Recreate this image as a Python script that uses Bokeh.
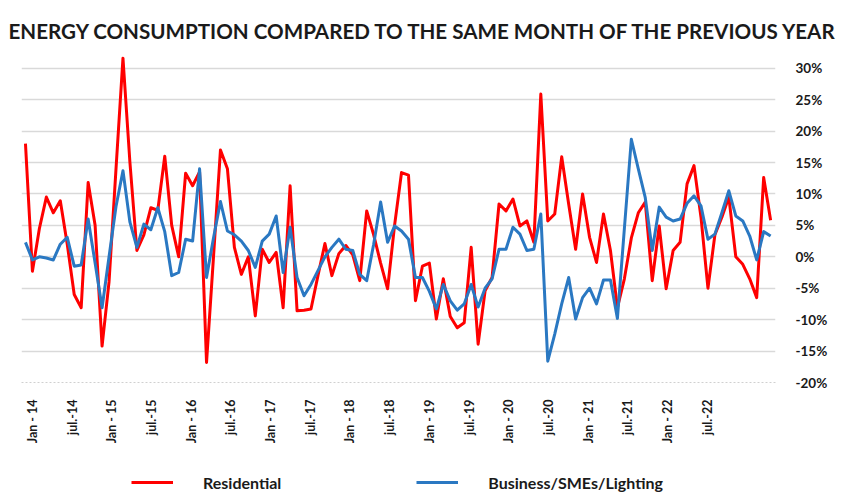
import math
from bokeh.plotting import figure
from bokeh.layouts import column
from bokeh.models import (FixedTicker, CustomJSTickFormatter, Range1d, Legend,
                          LegendItem, ColumnDataSource)
from bokeh.embed import file_html
from bokeh.resources import INLINE

# Monthly year-on-year change (%), Jan 2014 onwards
residential = [18.0, -2.3, 4.5, 9.5, 7.0, 8.9, 2.0, -6.0, -8.1, 11.8, 5.0, -14.2,
               -4.0, 14.0, 31.6, 15.0, 1.0, 3.5, 7.8, 7.4, 16.0, 5.0, 0.0, 13.3,
               11.3, 13.5, -16.8, 0.0, 17.0, 14.0, 1.5, -2.8, 0.0, -9.4, 1.2, -0.9,
               0.7, -8.1, 11.3, -8.6, -8.5, -8.3, -3.0, 2.1, -3.0, 0.5, 1.8, 0.3,
               -3.8, 7.3, 3.5, -1.0, -5.1, 5.0, 13.4, 13.0, -7.0, -1.5, -1.0, -9.9,
               -3.5, -9.5, -11.3, -10.5, 1.5, -13.9, -5.4, -3.3, 8.4, 7.3, 9.2, 4.9,
               5.7, 2.3, 25.9, 5.7, 6.8, 15.9, 8.4, 1.2, 10.0, 3.1, -0.9, 6.8,
               1.0, -8.1, -3.5, 3.0, 7.0, 8.7, -3.8, 4.9, -5.1, 1.0, 2.3, 11.6,
               14.5, 6.3, -5.0, 3.5, 6.3, 9.5, 0.0, -1.2, -3.5, -6.5, 12.6, 5.8]
business = [2.3, -0.5, 0.0, -0.2, -0.5, 2.0, 3.1, -1.5, -1.3, 6.0, -1.0, -8.1,
            0.0, 8.0, 13.7, 5.5, 1.5, 5.2, 4.3, 7.8, 4.0, -3.0, -2.5, 2.8,
            2.5, 14.0, -3.3, 3.0, 8.8, 4.1, 3.5, 2.5, 1.0, -1.7, 2.5, 3.6,
            6.5, -2.5, 4.7, -3.3, -6.2, -4.4, -2.2, 0.0, 1.5, 2.8, 1.2, 1.0,
            -2.8, -3.8, 2.0, 8.7, 2.3, 4.9, 4.1, 2.8, -3.3, -3.3, -5.5, -8.3,
            -4.4, -7.0, -8.5, -7.5, -4.4, -8.0, -5.0, -3.5, 1.2, 1.2, 4.7, 3.6,
            1.0, 1.2, 6.8, -16.6, -12.3, -7.5, -3.3, -9.9, -6.5, -5.0, -7.5, -3.7,
            -3.7, -9.8, 4.5, 18.7, 14.0, 9.4, 1.0, 7.9, 6.3, 5.7, 6.0, 8.5,
            9.7, 8.1, 2.8, 3.6, 7.0, 10.5, 6.5, 5.7, 3.3, -0.5, 4.0, 3.3]
months = list(range(len(residential)))

tick_labels = ["Jan - 14", "jul.-14", "Jan - 15", "jul.-15", "Jan - 16", "jul.-16",
               "Jan - 17", "jul.-17", "Jan - 18", "jul.-18", "Jan - 19", "jul.-19",
               "Jan - 20", "jul.-20", "Jan - 21", "jul.-21", "Jan - 22", "jul.-22"]
y_ticks = [-20, -15, -10, -5, 0, 5, 10, 15, 20, 25, 30]

series_names = ["Residential", "Business/SMEs/Lighting"]
colors = ["#FF0000", "#2A78C2"]

FONT = "Lato"

src = ColumnDataSource(dict(x=months, res=residential, bus=business))

p = figure(width=845, height=467, output_backend="svg", toolbar_location=None,
           x_range=Range1d(-0.57, 107.7), y_range=Range1d(-20, 32.5),
           y_axis_location="right", min_border_left=21, min_border_right=70,
           min_border_top=52, min_border_bottom=85)
p.outline_line_color = None
p.background_fill_color = "white"
p.border_fill_color = "white"

# title
p.title.text = "ENERGY CONSUMPTION COMPARED TO THE SAME MONTH OF THE PREVIOUS YEAR"
p.title.text_font = FONT
p.title.text_font_style = "bold"
p.title.text_font_size = "20.6px"
p.title.text_color = "#1a1a1a"
p.title.align = "left"
p.title.offset = -13
p.title.standoff = 20

# grid
p.xgrid.grid_line_color = None
p.ygrid.ticker = FixedTicker(ticks=y_ticks[1:])
p.ygrid.grid_line_color = "#D9D9D9"
p.ygrid.grid_line_width = 1.5

# y axis (right)
ya = p.yaxis[0]
ya.ticker = FixedTicker(ticks=y_ticks)
ya.formatter = CustomJSTickFormatter(code="return tick + '%';")
ya.axis_line_color = None
ya.major_tick_line_color = None
ya.minor_tick_line_color = None
ya.major_label_standoff = 14
ya.major_label_text_font = FONT
ya.major_label_text_font_style = "bold"
ya.major_label_text_font_size = "13.5px"
ya.major_label_text_color = "#1a1a1a"

# x axis
tick_pos = [1.0 + 5.7 * k for k in range(len(tick_labels))]
xa = p.xaxis[0]
xa.ticker = FixedTicker(ticks=tick_pos)
xa.formatter = CustomJSTickFormatter(args=dict(labels=tick_labels),
                                     code="return labels[index];")
xa.major_label_orientation = math.pi / 2
xa.axis_line_color = "#D0D0D0"
xa.axis_line_dash = "2 2"
xa.major_tick_line_color = None
xa.minor_tick_line_color = None
xa.major_label_standoff = 11
xa.major_label_text_font = FONT
xa.major_label_text_font_style = "bold"
xa.major_label_text_font_size = "12.5px"
xa.major_label_text_color = "#1a1a1a"

p.line("x", "res", source=src, line_color=colors[0], line_width=3,
       line_join="round")
p.line("x", "bus", source=src, line_color=colors[1], line_width=3,
       line_join="round")

# legend strip below the chart (its ranges keep the proxy lines out of view)
q = figure(width=845, height=26, output_backend="svg", toolbar_location=None,
           x_range=Range1d(0, 1), y_range=Range1d(1000, 1001),
           min_border_left=0, min_border_right=0, min_border_top=0,
           min_border_bottom=0)
q.axis.visible = False
q.grid.visible = False
q.outline_line_color = None
k1 = q.line("x", "res", source=src, line_color=colors[0], line_width=3)
k2 = q.line("x", "bus", source=src, line_color=colors[1], line_width=3)
legend = Legend(items=[LegendItem(label=series_names[0], renderers=[k1]),
                       LegendItem(label=series_names[1], renderers=[k2])],
                orientation="horizontal", location=(110, 1),
                glyph_width=42, glyph_height=20, label_height=20,
                label_standoff=30, spacing=135,
                padding=0, margin=0, border_line_color=None,
                background_fill_alpha=0,
                label_text_font=FONT, label_text_font_style="bold",
                label_text_font_size="16px", label_text_color="#1a1a1a")
q.add_layout(legend, "center")

page = column(p, q, spacing=0)
open("out.html", "w").write(file_html(page, INLINE))
